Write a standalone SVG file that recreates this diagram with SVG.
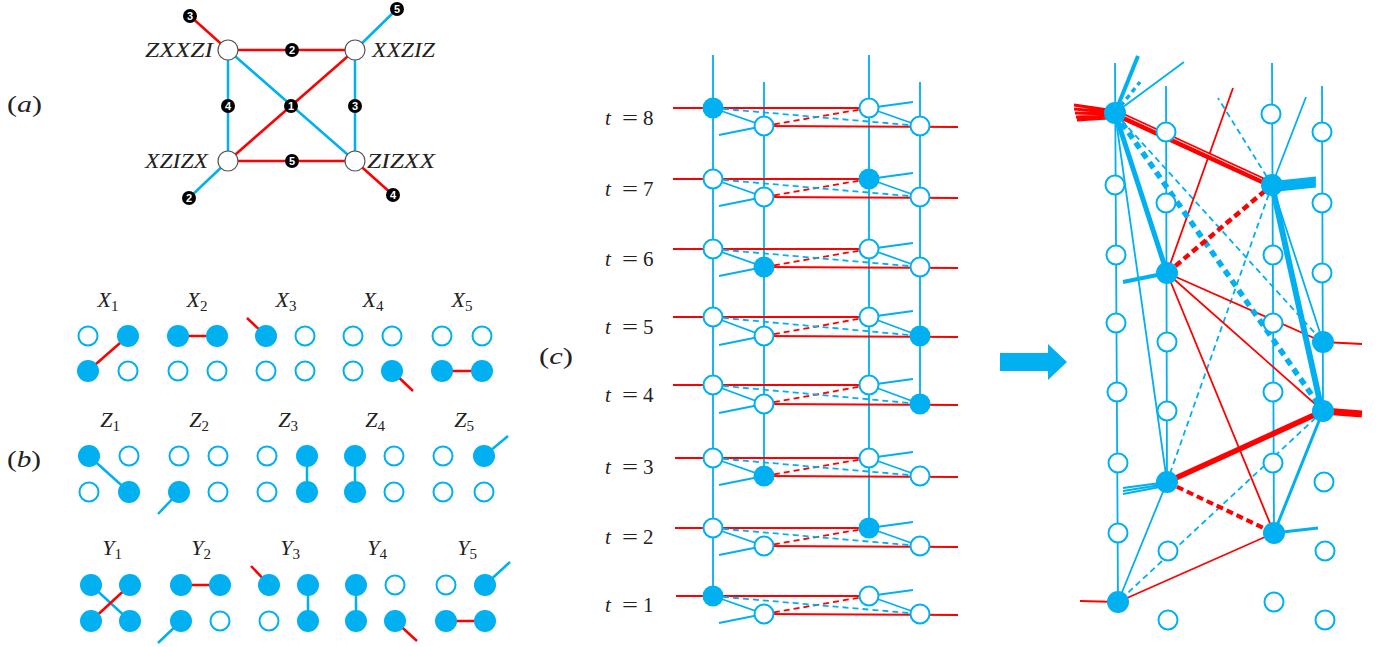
<svg xmlns="http://www.w3.org/2000/svg" width="1395" height="647" viewBox="0 0 1395 647">
<defs><style>
.b{stroke:#00B0F0;fill:none;stroke-width:1.8}
.r{stroke:#FF0000;fill:none;stroke-width:1.8}
.d{stroke-dasharray:6 4}
.o{fill:#fff;stroke:#00B0F0;stroke-width:2}
.f{fill:#00B0F0}
.an{fill:#fff;stroke:#555;stroke-width:1.2}
.bg{fill:#000}
.bn{fill:#fff;font-family:"Liberation Sans",sans-serif;font-weight:bold;font-size:11px;text-anchor:middle}
.t{font-family:"Liberation Serif",serif;fill:#222}
.i{font-style:italic}
.m{text-anchor:middle}
.a2{stroke-width:2.5}
.sub{font-size:15px;font-style:normal}
</style></defs>
<rect width="1395" height="647" fill="#fff"/>

<!-- panel labels -->
<text class="t" x="7" y="112" font-size="24" textLength="35" lengthAdjust="spacingAndGlyphs">(<tspan class="i">a</tspan>)</text>
<text class="t" x="7" y="467" font-size="24" textLength="34" lengthAdjust="spacingAndGlyphs">(<tspan class="i">b</tspan>)</text>
<text class="t" x="539" y="364" font-size="24" textLength="34" lengthAdjust="spacingAndGlyphs">(<tspan class="i">c</tspan>)</text>

<!-- ===== (a) ===== -->
<g id="a-connectors">
<path class="r a2" d="M228 50H355M228 161H355M228 161L355 50M228 50L190 16M355 161L393 195"/>
<path class="b a2" d="M228 50V161M355 50V161M228 50L355 161M355 50L397 9M228 161L189 198"/>
</g>
<g id="a-ZXXZI"><circle class="an" cx="228" cy="50" r="10"/><text class="t i" x="213" y="57" font-size="21" text-anchor="end" textLength="68" lengthAdjust="spacingAndGlyphs">ZXXZI</text></g>
<g id="a-XXZIZ"><circle class="an" cx="355" cy="50" r="10"/><text class="t i" x="372" y="57" font-size="21" textLength="63" lengthAdjust="spacingAndGlyphs">XXZIZ</text></g>
<g id="a-XZIZX"><circle class="an" cx="228" cy="161" r="10"/><text class="t i" x="208" y="168" font-size="21" text-anchor="end" textLength="63" lengthAdjust="spacingAndGlyphs">XZIZX</text></g>
<g id="a-ZIZXX"><circle class="an" cx="355" cy="161" r="10"/><text class="t i" x="367" y="168" font-size="21" textLength="68" lengthAdjust="spacingAndGlyphs">ZIZXX</text></g>
<g id="a-badges">
<g id="bd3a"><circle class="bg" cx="190" cy="16" r="7"/><text class="bn" x="190" y="20">3</text></g>
<g id="bd5a"><circle class="bg" cx="397" cy="9" r="7"/><text class="bn" x="397" y="13">5</text></g>
<g id="bd2a"><circle class="bg" cx="292" cy="50" r="7"/><text class="bn" x="292" y="54">2</text></g>
<g id="bd4a"><circle class="bg" cx="228" cy="106" r="7"/><text class="bn" x="228" y="110">4</text></g>
<g id="bd1"><circle class="bg" cx="291" cy="106" r="7"/><text class="bn" x="291" y="110">1</text></g>
<g id="bd3b"><circle class="bg" cx="355" cy="106" r="7"/><text class="bn" x="355" y="110">3</text></g>
<g id="bd5b"><circle class="bg" cx="292" cy="161" r="7"/><text class="bn" x="292" y="165">5</text></g>
<g id="bd2b"><circle class="bg" cx="189" cy="198" r="7"/><text class="bn" x="189" y="202">2</text></g>
<g id="bd4b"><circle class="bg" cx="393" cy="195" r="7"/><text class="bn" x="393" y="199">4</text></g>
</g>

<!-- ===== (b) ===== -->
<g id="b-labels" font-size="22">
<text class="t m" x="108" y="307"><tspan class="i">X</tspan><tspan class="sub" dy="4">1</tspan></text>
<text class="t m" x="197" y="307"><tspan class="i">X</tspan><tspan class="sub" dy="4">2</tspan></text>
<text class="t m" x="286" y="307"><tspan class="i">X</tspan><tspan class="sub" dy="4">3</tspan></text>
<text class="t m" x="373" y="307"><tspan class="i">X</tspan><tspan class="sub" dy="4">4</tspan></text>
<text class="t m" x="462" y="307"><tspan class="i">X</tspan><tspan class="sub" dy="4">5</tspan></text>
<text class="t m" x="110" y="427"><tspan class="i">Z</tspan><tspan class="sub" dy="4">1</tspan></text>
<text class="t m" x="199" y="427"><tspan class="i">Z</tspan><tspan class="sub" dy="4">2</tspan></text>
<text class="t m" x="288" y="427"><tspan class="i">Z</tspan><tspan class="sub" dy="4">3</tspan></text>
<text class="t m" x="375" y="427"><tspan class="i">Z</tspan><tspan class="sub" dy="4">4</tspan></text>
<text class="t m" x="464" y="427"><tspan class="i">Z</tspan><tspan class="sub" dy="4">5</tspan></text>
<text class="t m" x="112" y="555"><tspan class="i">Y</tspan><tspan class="sub" dy="4">1</tspan></text>
<text class="t m" x="201" y="555"><tspan class="i">Y</tspan><tspan class="sub" dy="4">2</tspan></text>
<text class="t m" x="290" y="555"><tspan class="i">Y</tspan><tspan class="sub" dy="4">3</tspan></text>
<text class="t m" x="377" y="555"><tspan class="i">Y</tspan><tspan class="sub" dy="4">4</tspan></text>
<text class="t m" x="467" y="555"><tspan class="i">Y</tspan><tspan class="sub" dy="4">5</tspan></text>
</g>
<g id="b-connectors">
<path class="r a2" d="M88 371L128 336M178 336H217M266 336L247 318M392 371L413 391M442 371H482"/>
<path class="b a2" d="M89 456L129 492M179 492L158 514M307 456V492M355 456V492M484 456L508 436"/>
<path class="b a2" d="M91 585L130 621M181 621L158 643M308 585V621M356 585V621M485 585L510 562"/>
<path class="r a2" d="M91 621L130 585M181 585H220M269 585L251 566M395 621L417 641M446 621H485"/>
</g>
<g id="b-X1"><circle class="o" cx="88" cy="336" r="9.5"/><circle class="f" cx="128" cy="336" r="11"/><circle class="f" cx="88" cy="371" r="11"/><circle class="o" cx="128" cy="371" r="9.5"/></g>
<g id="b-X2"><circle class="f" cx="178" cy="336" r="11"/><circle class="f" cx="217" cy="336" r="11"/><circle class="o" cx="178" cy="371" r="9.5"/><circle class="o" cx="217" cy="371" r="9.5"/></g>
<g id="b-X3"><circle class="f" cx="266" cy="336" r="11"/><circle class="o" cx="305" cy="336" r="9.5"/><circle class="o" cx="266" cy="371" r="9.5"/><circle class="o" cx="305" cy="371" r="9.5"/></g>
<g id="b-X4"><circle class="o" cx="353" cy="336" r="9.5"/><circle class="o" cx="392" cy="336" r="9.5"/><circle class="o" cx="353" cy="371" r="9.5"/><circle class="f" cx="392" cy="371" r="11"/></g>
<g id="b-X5"><circle class="o" cx="442" cy="336" r="9.5"/><circle class="o" cx="482" cy="336" r="9.5"/><circle class="f" cx="442" cy="371" r="11"/><circle class="f" cx="482" cy="371" r="11"/></g>
<g id="b-Z1"><circle class="f" cx="89" cy="456" r="11"/><circle class="o" cx="129" cy="456" r="9.5"/><circle class="o" cx="89" cy="492" r="9.5"/><circle class="f" cx="129" cy="492" r="11"/></g>
<g id="b-Z2"><circle class="o" cx="179" cy="456" r="9.5"/><circle class="o" cx="218" cy="456" r="9.5"/><circle class="f" cx="179" cy="492" r="11"/><circle class="o" cx="218" cy="492" r="9.5"/></g>
<g id="b-Z3"><circle class="o" cx="267" cy="456" r="9.5"/><circle class="f" cx="307" cy="456" r="11"/><circle class="o" cx="267" cy="492" r="9.5"/><circle class="f" cx="307" cy="492" r="11"/></g>
<g id="b-Z4"><circle class="f" cx="355" cy="456" r="11"/><circle class="o" cx="394" cy="456" r="9.5"/><circle class="f" cx="355" cy="492" r="11"/><circle class="o" cx="394" cy="492" r="9.5"/></g>
<g id="b-Z5"><circle class="o" cx="443" cy="456" r="9.5"/><circle class="f" cx="484" cy="456" r="11"/><circle class="o" cx="443" cy="492" r="9.5"/><circle class="o" cx="484" cy="492" r="9.5"/></g>
<g id="b-Y1"><circle class="f" cx="91" cy="585" r="11"/><circle class="f" cx="130" cy="585" r="11"/><circle class="f" cx="91" cy="621" r="11"/><circle class="f" cx="130" cy="621" r="11"/></g>
<g id="b-Y2"><circle class="f" cx="181" cy="585" r="11"/><circle class="f" cx="220" cy="585" r="11"/><circle class="f" cx="181" cy="621" r="11"/><circle class="o" cx="220" cy="621" r="9.5"/></g>
<g id="b-Y3"><circle class="f" cx="269" cy="585" r="11"/><circle class="f" cx="308" cy="585" r="11"/><circle class="o" cx="269" cy="621" r="9.5"/><circle class="f" cx="308" cy="621" r="11"/></g>
<g id="b-Y4"><circle class="f" cx="356" cy="585" r="11"/><circle class="o" cx="395" cy="585" r="9.5"/><circle class="f" cx="356" cy="621" r="11"/><circle class="f" cx="395" cy="621" r="11"/></g>
<g id="b-Y5"><circle class="o" cx="446" cy="585" r="9.5"/><circle class="f" cx="485" cy="585" r="11"/><circle class="f" cx="446" cy="621" r="11"/><circle class="f" cx="485" cy="621" r="11"/></g>

<!-- ===== (c) lattice ===== -->
<g id="c-tlabels" font-size="21">
<text class="t" y="125"><tspan x="605" class="i">t</tspan><tspan x="622" textLength="16" lengthAdjust="spacingAndGlyphs">=</tspan><tspan x="643">8</tspan></text>
<text class="t" y="196"><tspan x="605" class="i">t</tspan><tspan x="622" textLength="16" lengthAdjust="spacingAndGlyphs">=</tspan><tspan x="643">7</tspan></text>
<text class="t" y="266"><tspan x="605" class="i">t</tspan><tspan x="622" textLength="16" lengthAdjust="spacingAndGlyphs">=</tspan><tspan x="643">6</tspan></text>
<text class="t" y="334"><tspan x="605" class="i">t</tspan><tspan x="622" textLength="16" lengthAdjust="spacingAndGlyphs">=</tspan><tspan x="643">5</tspan></text>
<text class="t" y="402"><tspan x="605" class="i">t</tspan><tspan x="622" textLength="16" lengthAdjust="spacingAndGlyphs">=</tspan><tspan x="643">4</tspan></text>
<text class="t" y="474"><tspan x="605" class="i">t</tspan><tspan x="622" textLength="16" lengthAdjust="spacingAndGlyphs">=</tspan><tspan x="643">3</tspan></text>
<text class="t" y="544"><tspan x="605" class="i">t</tspan><tspan x="622" textLength="16" lengthAdjust="spacingAndGlyphs">=</tspan><tspan x="643">2</tspan></text>
<text class="t" y="612"><tspan x="605" class="i">t</tspan><tspan x="622" textLength="16" lengthAdjust="spacingAndGlyphs">=</tspan><tspan x="643">1</tspan></text>
</g>
<g id="c-connectors">
<path class="b" d="M713 55V596M764 82V476M869 55V528M920 82V405"/>
<path class="r" d="M673 108H869M764 126L958 127M673 179H869M764 197L958 198M673 249H869M764 267L958 268M673 317H869M764 336L958 337M673 385H869M764 404L958 405M675 458H869M764 476L958 477M675 528H869M764 546L958 547M676 596H869M764 614L958 615"/>
<path class="r d" d="M764 126L869 108M764 197L869 179M764 267L869 249M764 336L869 317M764 404L869 385M764 476L869 458M764 546L869 528M764 614L869 596"/>
<path class="b d" d="M713 108L920 126M713 179L920 197M713 249L920 267M713 317L920 336M713 385L920 404M713 458L920 476M713 528L920 546M713 596L920 614"/>
<path class="b" d="M713 108L764 126M764 126L719 135M869 108L920 126M869 108L913 102
M713 179L764 197M764 197L719 206M869 179L920 197M869 179L913 173
M713 249L764 267M764 267L719 276M869 249L920 267M869 249L913 243
M713 317L764 336M764 336L719 345M869 317L920 336M869 317L913 311
M713 385L764 404M764 404L719 413M869 385L920 404M869 385L913 379
M713 458L764 476M764 476L719 485M869 458L920 476M869 458L913 452
M713 528L764 546M764 546L719 555M869 528L920 546M869 528L913 522
M713 596L764 614M764 614L719 623M869 596L920 614M869 596L913 590"/>
</g>
<g id="c-t8"><g id="t8A"><circle class="f" cx="713" cy="108" r="10.5"/></g><g id="t8B"><circle class="o" cx="764" cy="126" r="9.5"/></g><g id="t8C"><circle class="o" cx="869" cy="108" r="9.5"/></g><g id="t8D"><circle class="o" cx="920" cy="126" r="9.5"/></g></g>
<g id="c-t7"><g id="t7A"><circle class="o" cx="713" cy="179" r="9.5"/></g><g id="t7B"><circle class="o" cx="764" cy="197" r="9.5"/></g><g id="t7C"><circle class="f" cx="869" cy="179" r="10.5"/></g><g id="t7D"><circle class="o" cx="920" cy="197" r="9.5"/></g></g>
<g id="c-t6"><g id="t6A"><circle class="o" cx="713" cy="249" r="9.5"/></g><g id="t6B"><circle class="f" cx="764" cy="267" r="10.5"/></g><g id="t6C"><circle class="o" cx="869" cy="249" r="9.5"/></g><g id="t6D"><circle class="o" cx="920" cy="267" r="9.5"/></g></g>
<g id="c-t5"><g id="t5A"><circle class="o" cx="713" cy="317" r="9.5"/></g><g id="t5B"><circle class="o" cx="764" cy="336" r="9.5"/></g><g id="t5C"><circle class="o" cx="869" cy="317" r="9.5"/></g><g id="t5D"><circle class="f" cx="920" cy="336" r="10.5"/></g></g>
<g id="c-t4"><g id="t4A"><circle class="o" cx="713" cy="385" r="9.5"/></g><g id="t4B"><circle class="o" cx="764" cy="404" r="9.5"/></g><g id="t4C"><circle class="o" cx="869" cy="385" r="9.5"/></g><g id="t4D"><circle class="f" cx="920" cy="404" r="10.5"/></g></g>
<g id="c-t3"><g id="t3A"><circle class="o" cx="713" cy="458" r="9.5"/></g><g id="t3B"><circle class="f" cx="764" cy="476" r="10.5"/></g><g id="t3C"><circle class="o" cx="869" cy="458" r="9.5"/></g><g id="t3D"><circle class="o" cx="920" cy="476" r="9.5"/></g></g>
<g id="c-t2"><g id="t2A"><circle class="o" cx="713" cy="528" r="9.5"/></g><g id="t2B"><circle class="o" cx="764" cy="546" r="9.5"/></g><g id="t2C"><circle class="f" cx="869" cy="528" r="10.5"/></g><g id="t2D"><circle class="o" cx="920" cy="546" r="9.5"/></g></g>
<g id="c-t1"><g id="t1A"><circle class="f" cx="713" cy="596" r="10.5"/></g><g id="t1B"><circle class="o" cx="764" cy="614" r="9.5"/></g><g id="t1C"><circle class="o" cx="869" cy="596" r="9.5"/></g><g id="t1D"><circle class="o" cx="920" cy="614" r="9.5"/></g></g>

<!-- arrow -->
<g id="arrow"><polygon class="f" points="1000,353 1048,353 1048,344 1067,362 1048,380 1048,371 1000,371"/></g>

<!-- ===== right graph ===== -->
<g id="r-connectors">
<path class="b" d="M1115 63L1118 602M1166 86L1167 482M1272 63L1274 533M1322 86L1323 411"/>
<path class="b" d="M1115 113L1167 482M1115 113L1184 62M1272 185L1306 97M1272 185L1323 342M1167 482L1118 602"/>
<path class="b d" d="M1115 113L1323 342M1272 185L1218 98M1272 185L1167 482M1323 411L1118 602"/>
<path class="r" d="M1115 113L1167 273M1167 273L1233 88M1167 273L1323 342M1323 342L1362 344M1167 273L1323 411M1167 273L1274 533M1274 533L1118 602M1118 602L1080 601"/>
<path class="b" style="stroke-width:4" d="M1115 113L1138 56"/>
<path class="b" style="stroke-width:3.5;stroke-dasharray:5 4" d="M1115 113L1140 82"/>
<path class="b" style="stroke-width:5" d="M1115 113L1167 273"/>
<path class="b" style="stroke-width:5.5;stroke-dasharray:7 5" d="M1115 113L1323 411"/>
<path class="b" style="stroke-width:2" d="M1270 185L1320 411M1272 185L1322 411M1274 185L1324 411"/>
<path class="b" style="stroke-width:2.8" d="M1278 182L1316 178M1278 185L1316 181M1278 188L1316 184M1278 190L1316 186"/>
<path class="b" style="stroke-width:4" d="M1167 273L1123 282"/>
<path class="b" style="stroke-width:2" d="M1160 483L1123 488M1160 485L1123 491M1160 487L1123 494"/>
<path class="b" style="stroke-width:3" d="M1323 411L1274 533M1274 533L1318 528"/>
<path class="r" style="stroke-width:7" d="M1115 113L1272 185"/>
<path stroke="#fff" stroke-width="0.9" fill="none" d="M1125 116L1262 179"/>
<path class="r" style="stroke-width:3.2" d="M1074 105L1108 110M1074 109L1108 112M1075 113L1108 114M1076 117L1108 116M1077 120L1108 118"/>
<path class="r" style="stroke-width:4.5;stroke-dasharray:7 4" d="M1167 273L1272 185"/>
<path class="r" style="stroke-width:5.5" d="M1167 482L1323 411"/>
<path class="r" style="stroke-width:4;stroke-dasharray:7 4" d="M1167 482L1274 533"/>
<path class="r" style="stroke-width:7" d="M1323 411L1362 414"/>
</g>
<g id="r-nodes">
<g id="rA8"><circle class="f" cx="1115" cy="113" r="11"/></g>
<g id="rA7"><circle class="o" cx="1115" cy="185" r="9.5"/></g>
<g id="rA6"><circle class="o" cx="1116" cy="255" r="9.5"/></g>
<g id="rA5"><circle class="o" cx="1116" cy="323" r="9.5"/></g>
<g id="rA4"><circle class="o" cx="1117" cy="392" r="9.5"/></g>
<g id="rA3"><circle class="o" cx="1118" cy="463" r="9.5"/></g>
<g id="rA2"><circle class="o" cx="1118" cy="533" r="9.5"/></g>
<g id="rA1"><circle class="f" cx="1118" cy="602" r="11"/></g>
<g id="rB8"><circle class="o" cx="1166" cy="132" r="9.5"/></g>
<g id="rB7"><circle class="o" cx="1166" cy="203" r="9.5"/></g>
<g id="rB6"><circle class="f" cx="1167" cy="273" r="11"/></g>
<g id="rB5"><circle class="o" cx="1167" cy="342" r="9.5"/></g>
<g id="rB4"><circle class="o" cx="1167" cy="411" r="9.5"/></g>
<g id="rB3"><circle class="f" cx="1167" cy="482" r="11"/></g>
<g id="rB2"><circle class="o" cx="1168" cy="551" r="9.5"/></g>
<g id="rB1"><circle class="o" cx="1168" cy="620" r="9.5"/></g>
<g id="rC8"><circle class="o" cx="1271" cy="114" r="9.5"/></g>
<g id="rC7"><circle class="f" cx="1272" cy="185" r="11"/></g>
<g id="rC6"><circle class="o" cx="1273" cy="255" r="9.5"/></g>
<g id="rC5"><circle class="o" cx="1273" cy="323" r="9.5"/></g>
<g id="rC4"><circle class="o" cx="1273" cy="392" r="9.5"/></g>
<g id="rC3"><circle class="o" cx="1273" cy="463" r="9.5"/></g>
<g id="rC2"><circle class="f" cx="1274" cy="533" r="11"/></g>
<g id="rC1"><circle class="o" cx="1274" cy="602" r="9.5"/></g>
<g id="rD8"><circle class="o" cx="1322" cy="132" r="9.5"/></g>
<g id="rD7"><circle class="o" cx="1322" cy="203" r="9.5"/></g>
<g id="rD6"><circle class="o" cx="1322" cy="273" r="9.5"/></g>
<g id="rD5"><circle class="f" cx="1323" cy="342" r="11"/></g>
<g id="rD4"><circle class="f" cx="1323" cy="411" r="11"/></g>
<g id="rD3"><circle class="o" cx="1324" cy="482" r="9.5"/></g>
<g id="rD2"><circle class="o" cx="1325" cy="551" r="9.5"/></g>
<g id="rD1"><circle class="o" cx="1325" cy="620" r="9.5"/></g>
</g>
</svg>
